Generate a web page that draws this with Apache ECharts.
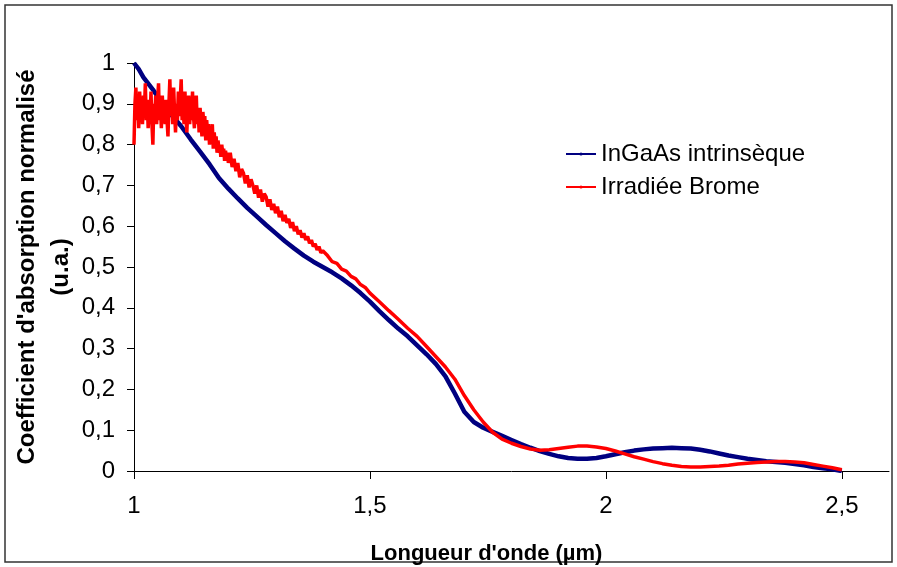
<!DOCTYPE html>
<html>
<head>
<meta charset="utf-8">
<script src="https://cdn.jsdelivr.net/npm/echarts@6/dist/echarts.min.js"></script>
<style>html,body{margin:0;padding:0;background:#fff}#c{width:897px;height:567px}</style>
</head>
<body>
<div id="c"></div>
<script>
// ---- data ----
var seriesNames = ['InGaAs intrinsèque', 'Irradiée Brome'];
var xTickValues = [1, 1.5, 2, 2.5];

var blueX = [1.00,1.01,1.02,1.04,1.06,1.08,1.10,1.12,1.14,1.16,1.18,1.20,1.22,1.24,1.26,1.28,1.30,1.32,1.34,1.36,1.38,1.40,1.42,1.44,1.46,1.48,1.50,1.52,1.54,1.56,1.58,1.60,1.62,1.64,1.66,1.68,1.70,1.72,1.74,1.76,1.78,1.80,1.82,1.84,1.86,1.88,1.90,1.92,1.94,1.96,1.98,2.00,2.02,2.04,2.06,2.08,2.10,2.12,2.14,2.16,2.18,2.20,2.22,2.24,2.26,2.28,2.30,2.32,2.34,2.36,2.38,2.40,2.42,2.44,2.46,2.48,2.50];
var blueY = [1.00,0.985,0.965,0.935,0.90,0.872,0.845,0.813,0.783,0.752,0.718,0.692,0.668,0.645,0.624,0.603,0.583,0.563,0.545,0.528,0.513,0.50,0.487,0.472,0.455,0.436,0.415,0.392,0.37,0.349,0.33,0.308,0.286,0.262,0.232,0.19,0.145,0.12,0.106,0.096,0.086,0.076,0.066,0.057,0.049,0.042,0.036,0.032,0.03,0.03,0.032,0.036,0.041,0.046,0.05,0.053,0.055,0.056,0.057,0.056,0.055,0.052,0.048,0.043,0.038,0.034,0.03,0.027,0.024,0.022,0.02,0.017,0.014,0.01,0.007,0.004,0.0];

// noisy part of the irradiated sample, 1.000 - 1.200 µm
var redX1 = [1.000,1.002,1.004,1.006,1.008,1.010,1.012,1.014,1.016,1.018,
  1.020,1.022,1.024,1.026,1.028,1.030,1.032,1.034,1.036,1.038,
  1.040,1.042,1.044,1.046,1.048,1.050,1.052,1.054,1.056,1.058,
  1.060,1.062,1.064,1.066,1.068,1.070,1.072,1.074,1.076,1.078,
  1.080,1.082,1.084,1.086,1.088,1.090,1.092,1.094,1.096,1.098,
  1.100,1.102,1.104,1.106,1.108,1.110,1.112,1.114,1.116,1.118,
  1.120,1.122,1.124,1.126,1.128,1.130,1.132,1.134,1.136,1.138,
  1.140,1.142,1.144,1.146,1.148,1.150,1.152,1.154,1.156,1.158,
  1.160,1.162,1.164,1.166,1.168,1.170,1.172,1.174,1.176,1.178,
  1.180,1.182,1.184,1.186,1.188,1.190,1.192,1.194,1.196,1.198,1.200];
var redY1 = [0.80,0.90,0.94,0.86,0.91,0.84,0.93,0.87,0.90,0.85,
  0.92,0.88,0.95,0.86,0.91,0.84,0.89,0.86,0.93,0.85,
  0.80,0.90,0.87,0.92,0.85,0.91,0.95,0.86,0.89,0.84,
  0.92,0.87,0.90,0.85,0.91,0.86,0.82,0.90,0.96,0.87,
  0.92,0.85,0.94,0.88,0.83,0.90,0.86,0.93,0.87,0.91,
  0.96,0.86,0.90,0.85,0.93,0.87,0.83,0.89,0.92,0.85,
  0.90,0.86,0.93,0.87,0.84,0.90,0.92,0.85,0.88,0.83,
  0.89,0.86,0.82,0.88,0.85,0.87,0.81,0.86,0.83,0.85,
  0.80,0.84,0.82,0.85,0.79,0.83,0.80,0.82,0.78,0.81,
  0.79,0.80,0.77,0.80,0.78,0.79,0.76,0.785,0.765,0.78,0.755];

// 1.204 - 1.400 µm
var redX2 = [1.204,1.208,1.212,1.216,1.220,1.224,1.228,1.232,1.236,1.240,
  1.244,1.248,1.252,1.256,1.260,1.264,1.268,1.272,1.276,1.280,
  1.284,1.288,1.292,1.296,1.300,1.304,1.308,1.312,1.316,1.320,
  1.324,1.328,1.332,1.336,1.340,1.344,1.348,1.352,1.356,1.360,
  1.364,1.368,1.372,1.376,1.380,1.384,1.388,1.392,1.396,1.400];
var redY2 = [0.78,0.745,0.765,0.735,0.755,0.72,0.74,0.73,0.705,0.725,
  0.695,0.715,0.70,0.68,0.70,0.67,0.69,0.66,0.68,0.672,
  0.648,0.666,0.64,0.655,0.632,0.648,0.622,0.638,0.612,0.628,
  0.608,0.618,0.596,0.61,0.588,0.60,0.58,0.59,0.572,0.583,
  0.566,0.575,0.558,0.566,0.55,0.557,0.542,0.55,0.535,0.54];

// 1.41 - 2.50 µm
var redX3 = [1.41,1.42,1.43,1.44,1.45,1.46,1.47,1.48,1.49,1.50,
  1.52,1.54,1.56,1.58,1.60,1.62,1.64,1.66,1.68,1.70,1.72,1.74,1.76,1.78,1.80,1.82,1.84,1.86,1.88,1.90,1.92,1.94,1.96,1.98,2.00,2.02,2.04,2.06,2.08,2.10,2.12,2.14,2.16,2.18,2.20,2.22,2.24,2.26,2.28,2.30,2.32,2.34,2.36,2.38,2.40,2.42,2.44,2.46,2.48,2.50];
var redY3 = [0.528,0.513,0.509,0.495,0.49,0.477,0.471,0.457,0.45,0.436,
  0.415,0.393,0.372,0.35,0.33,0.305,0.28,0.255,0.225,0.185,0.15,0.12,0.095,0.078,0.068,0.06,0.054,0.051,0.052,0.055,0.058,0.061,0.061,0.059,0.055,0.049,0.042,0.035,0.029,0.023,0.018,0.014,0.011,0.010,0.010,0.011,0.012,0.014,0.017,0.019,0.021,0.022,0.023,0.023,0.022,0.02,0.016,0.012,0.008,0.003];

function zip(xs, ys) { return xs.map(function (x, i) { return [x, ys[i]]; }); }
function fmt(v) { return String(+(+v).toFixed(1)).replace('.', ','); }

var redData = zip(redX1, redY1).concat(zip(redX2, redY2), zip(redX3, redY3));

var FONT = '"Liberation Sans", Arial, sans-serif';
var chart = echarts.init(document.getElementById('c'), null, { renderer: 'canvas' });
chart.setOption({
  animation: false,
  backgroundColor: '#ffffff',
  textStyle: { fontFamily: FONT },
  grid: { left: 134, top: 63, right: 8, bottom: 96, containLabel: false, outerBoundsMode: 'none' },
  graphic: [{
    type: 'rect', shape: { x: 5, y: 5, width: 887, height: 557 },
    style: { fill: 'none', stroke: '#333333', lineWidth: 1.5 }, silent: true, z: -1
  }],
  legend: {
    orient: 'vertical', left: 560, top: 137, itemGap: 9,
    itemWidth: 30, itemHeight: 4,
    textStyle: { fontFamily: FONT, fontSize: 24, color: '#000' },
    lineStyle: { width: 2 },
    data: seriesNames
  },
  xAxis: {
    type: 'value', min: 1, max: 2.6,
    name: "Longueur d'onde (µm)", nameLocation: 'middle', nameGap: 72, nameMoveOverlap: false,
    nameTextStyle: { fontFamily: FONT, fontSize: 22, fontWeight: 'bold', color: '#000', padding: [0, 50, 0, 0] },
    axisLine: { show: true, onZero: false, lineStyle: { color: '#000', width: 1 } },
    axisTick: { show: true, inside: false, length: 8, customValues: xTickValues, lineStyle: { color: '#000' } },
    axisLabel: { customValues: xTickValues, margin: 23, fontFamily: FONT, fontSize: 24, color: '#000', formatter: fmt },
    splitLine: { show: false }
  },
  yAxis: {
    type: 'value', min: 0, max: 1, interval: 0.1,
    name: "Coefficient d'absorption normalisé\n(u.a.)", nameLocation: 'middle', nameGap: 56, nameMoveOverlap: false,
    nameTextStyle: { fontFamily: FONT, fontSize: 24, fontWeight: 'bold', color: '#000', lineHeight: 34 },
    axisLine: { show: true, lineStyle: { color: '#000', width: 1 } },
    axisTick: { show: true, inside: false, length: 7, lineStyle: { color: '#000' } },
    axisLabel: { margin: 19, fontFamily: FONT, fontSize: 24, color: '#000', formatter: fmt },
    splitLine: { show: false }
  },
  series: [
    {
      name: seriesNames[0], type: 'line', data: zip(blueX, blueY),
      showSymbol: false, symbol: 'circle', symbolSize: 4,
      itemStyle: { color: '#000080' },
      lineStyle: { color: '#000080', width: 4.5 }, z: 2
    },
    {
      name: seriesNames[1], type: 'line', data: redData,
      showSymbol: false, symbol: 'circle', symbolSize: 4,
      itemStyle: { color: '#ff0000' },
      lineStyle: { color: '#ff0000', width: 3.5 }, z: 3
    }
  ]
});
</script>
</body>
</html>
